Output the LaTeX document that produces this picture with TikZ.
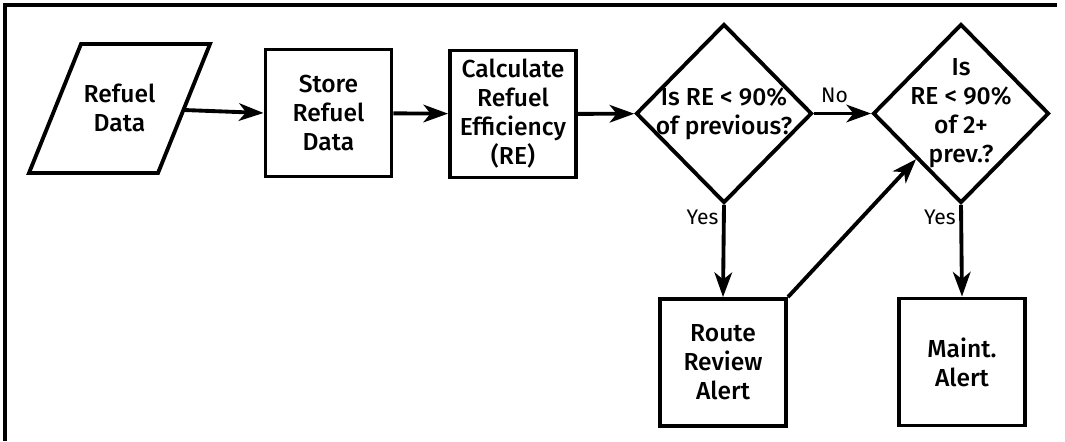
\documentclass[tikz,border=0pt]{standalone}
\usepackage{fontspec}
\setmainfont{Fira Sans}
\newfontfamily\medfont{Fira Sans Medium}
\usetikzlibrary{arrows.meta,shapes.geometric,positioning}

\tikzset{
    stepbox/.style={draw,line width=2.2pt,minimum width=2.52cm,minimum height=2.54cm,
        inner sep=0pt,align=center,font=\medfont\fontsize{14}{16.5}\selectfont},
    decision/.style={draw,diamond,line width=2.2pt,minimum width=3.52cm,minimum height=3.58cm,
        inner sep=-12pt,align=center,font=\medfont\fontsize{14}{16.5}\selectfont},
    answer/.style={font=\fontsize{12}{14}\selectfont,inner sep=2pt}
}

\begin{document}
\begin{tikzpicture}
            \useasboundingbox (0,0) rectangle (21.3,-8.82);
            % frame
            \draw[line width=2pt] (0.1,-8.82) -- (0.1,-0.1) -- (21.14,-0.1);
            % input parallelogram
            \coordinate (BL) at (0.58,-3.46);
            \coordinate (AL) at (1.62,-0.88);
            \coordinate (AR) at (4.2,-0.88);
            \coordinate (BR) at (3.16,-3.46);
            \draw[line width=2.2pt,line join=miter] (BL) -- (AL) -- (AR) -- (BR) -- cycle;
            \node[align=center,font=\medfont\fontsize{14}{16.5}\selectfont] (data) at (2.39,-2.16) {Refuel\\Data};
            \coordinate (dataout) at (3.68,-2.2);
            % steps
            \node[stepbox] (store) at (6.57,-2.26) {Store\\Refuel\\Data};
            \node[stepbox] (calc) at (10.26,-2.28) {Calculate\\Refuel\\Efficiency\\(RE)};
            \node[decision] (dec1) at (14.48,-2.27) {Is RE < 90\%\\of previous?};
            \node[decision] (dec2) at (19.22,-2.27) {Is\\RE < 90\%\\of 2+\\prev.?};
            \node[stepbox] (route) at (14.46,-7.25) {Route\\Review\\Alert};
            \node[stepbox] (maint) at (19.24,-7.24) {Maint.\\Alert};
            \begin{scope}[-{Stealth[length=14pt,width=10pt,inset=4pt]},line width=2.2pt]
                \draw (dataout) -- (store.west);
                \draw (store) -- (calc);
                \draw (calc) -- (dec1);
                \draw (dec1.east) -- node[answer,pos=0.36,above,inner sep=5pt] {No} (dec2.west);
                \draw (dec1.south) -- node[answer,pos=0.14,left] {Yes} (route.north);
                \draw (dec2.south) -- node[answer,pos=0.14,left] {Yes} (maint.north);
                \draw (route.north east) -- (dec2.south west);
            \end{scope}
        \end{tikzpicture}
\end{document}
